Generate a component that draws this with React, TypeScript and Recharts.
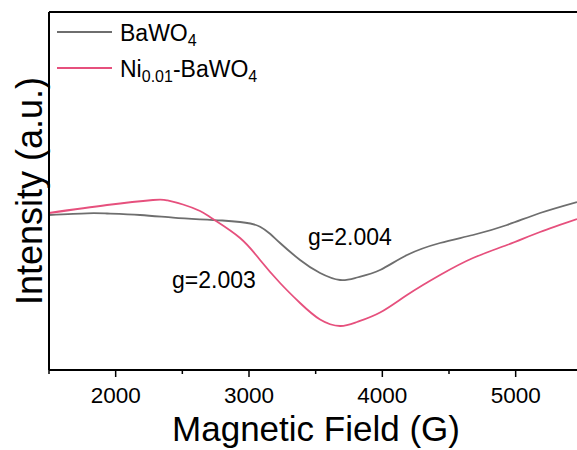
import React from 'react'
import { LineChart, Line, XAxis, YAxis, ReferenceLine } from 'recharts'

// BaWO4 spectrum (field in G, intensity in a.u.)
const bawo4Field = [1500, 1785, 1935, 2183, 2430, 2633, 2800, 2933, 3010, 3083, 3160, 3233, 3383, 3533, 3683, 3810, 3983, 4185, 4433, 4680, 4935, 5183, 5460]
const bawo4Intensity = [155, 156.7, 156.5, 155, 152.3, 150.7, 149.5, 148, 146.5, 143.3, 136, 127, 110, 97, 90, 92.5, 100, 115, 127, 135, 145, 157, 168]

// Ni0.01-BaWO4 spectrum
const niField = [1500, 1935, 2280, 2385, 2505, 2633, 2730, 2933, 3083, 3233, 3383, 3533, 3683, 3810, 3983, 4185, 4433, 4680, 4935, 5183, 5460]
const niIntensity = [157, 165, 170, 169.7, 165.5, 159, 151, 132, 110, 87, 67, 50.5, 44, 48, 57.5, 75, 95, 112, 125, 138, 151]

const xTicks = [1500, 2000, 2500, 3000, 3500, 4000, 4500, 5000]

const GRAY = '#6e6e6e'
const PINK = '#e6507d'
const FONT = '"Liberation Sans", Arial, sans-serif'

const bawo4Data = bawo4Field.map((f, i) => ({ field: f, value: bawo4Intensity[i] }))
const niData = niField.map((f, i) => ({ field: f, value: niIntensity[i] }))

function AxisTick(props: any) {
  const { x, y, payload } = props
  const major = payload.value % 1000 === 0
  return (
    <g>
      <line x1={x} x2={x} y1={y} y2={y + (major ? 7 : 4)} stroke="#000" strokeWidth={1.5} />
      {major && (
        <text x={x} y={y + 33} textAnchor="middle" fontSize={22.5} fontFamily={FONT} fill="#000">
          {payload.value}
        </text>
      )}
    </g>
  )
}

export default function App() {
  return (
    <div style={{ position: 'absolute', left: 0, top: 0, width: 577, height: 450, overflow: 'hidden', background: '#fff' }}>
      <LineChart width={577} height={450} margin={{ top: 12, right: 0, bottom: 0, left: 0 }}>
        <XAxis
          dataKey="field"
          type="number"
          domain={[1500, 5460]}
          ticks={xTicks}
          allowDataOverflow
          height={80}
          tickSize={0}
          tickMargin={0}
          tickLine={false}
          axisLine={{ stroke: '#000', strokeWidth: 2 }}
          tick={<AxisTick />}
        />
        <YAxis
          type="number"
          domain={[0, 358]}
          width={49}
          tick={false}
          tickLine={false}
          axisLine={{ stroke: '#000', strokeWidth: 2 }}
        />
        <ReferenceLine y={358} stroke="#000" strokeWidth={2} />
        <Line
          data={bawo4Data}
          dataKey="value"
          type="natural"
          stroke={GRAY}
          strokeWidth={1.8}
          dot={false}
          isAnimationActive={false}
        />
        <Line
          data={niData}
          dataKey="value"
          type="natural"
          stroke={PINK}
          strokeWidth={1.8}
          dot={false}
          isAnimationActive={false}
        />
      </LineChart>
      <svg
        width={577}
        height={450}
        style={{ position: 'absolute', left: 0, top: 0, pointerEvents: 'none' }}
        fontFamily={FONT}
      >
        {/* axis titles */}
        <text transform="translate(42,191) rotate(-90)" textAnchor="middle" fontSize={36} fill="#000">
          Intensity (a.u.)
        </text>
        <text x={316} y={441} textAnchor="middle" fontSize={35} fill="#000">
          Magnetic Field (G)
        </text>

        {/* legend */}
        <line x1={57} x2={112} y1={32} y2={32} stroke={GRAY} strokeWidth={2} />
        <text x={120} y={41} fontSize={23} fill="#000">
          BaWO<tspan fontSize={16} dy={5}>4</tspan>
        </text>
        <line x1={57} x2={112} y1={68} y2={68} stroke={PINK} strokeWidth={2} />
        <text x={120} y={77} fontSize={23} fill="#000">
          Ni<tspan fontSize={16} dy={5}>0.01</tspan>
          <tspan dy={-5}>-BaWO</tspan>
          <tspan fontSize={16} dy={5}>4</tspan>
        </text>

        {/* g-value annotations */}
        <text x={308} y={245} fontSize={23} fill="#000">g=2.004</text>
        <text x={172} y={288} fontSize={23} fill="#000">g=2.003</text>
      </svg>
    </div>
  )
}
